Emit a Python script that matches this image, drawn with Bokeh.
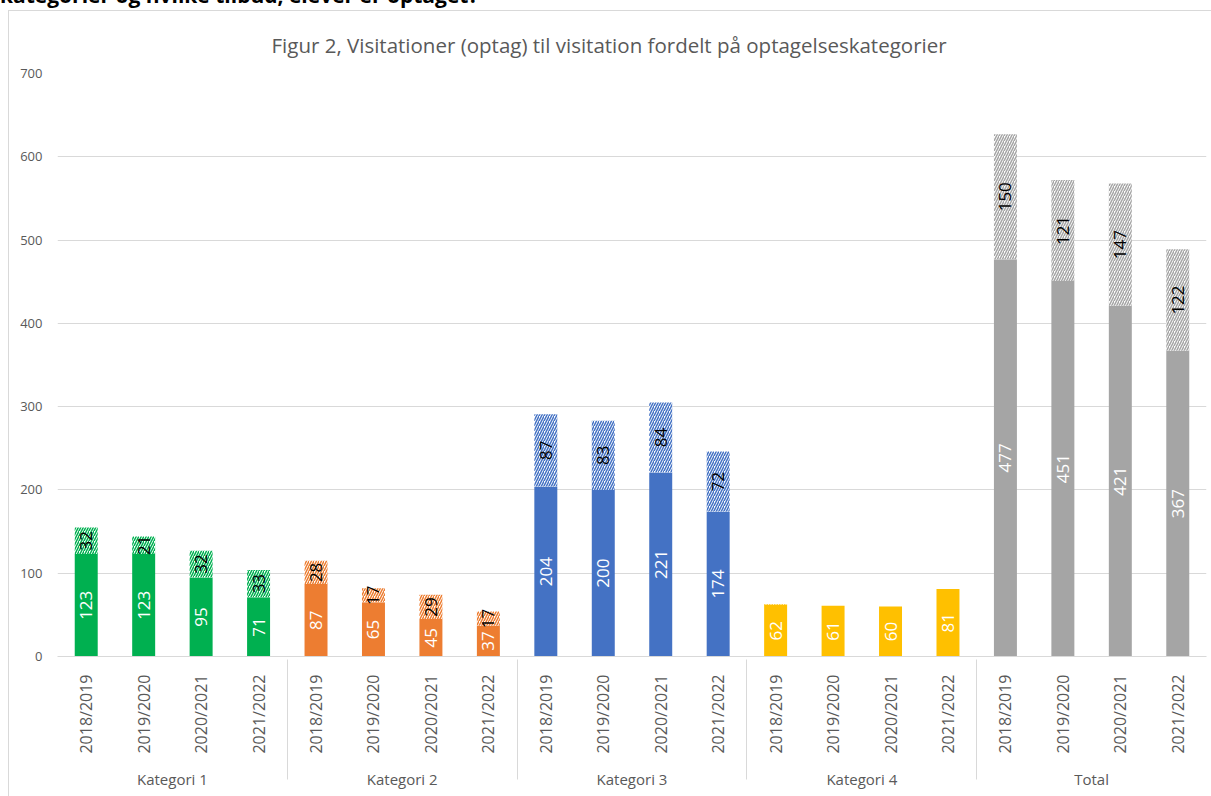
import math
from bokeh.plotting import figure
from bokeh.models import FactorRange, ColumnDataSource, Div, SingleIntervalTicker, Spacer
from bokeh.layouts import column, row
from bokeh.embed import file_html
from bokeh.resources import INLINE
from bokeh.core.properties import value

heading = "kategorier og hvilke tilbud, elever er optaget?"
title_text = "Figur 2, Visitationer (optag) til visitation fordelt på optagelseskategorier"

groups = ["Kategori 1", "Kategori 2", "Kategori 3", "Kategori 4", "Total"]
years = ["2018/2019", "2019/2020", "2020/2021", "2021/2022"]
colors = ["#00B050", "#ED7D31", "#4472C4", "#FFC000", "#A5A5A5"]

kat1_solid = [123, 123, 95, 71]
kat1_hatch = [32, 21, 32, 33]
kat2_solid = [87, 65, 45, 37]
kat2_hatch = [28, 17, 29, 17]
kat3_solid = [204, 200, 221, 174]
kat3_hatch = [87, 83, 84, 72]
kat4_solid = [62, 61, 60, 81]
kat4_hatch = [1, 0, 0, 0]
total_solid = [477, 451, 421, 367]
total_hatch = [150, 121, 147, 122]

solid = [kat1_solid, kat2_solid, kat3_solid, kat4_solid, total_solid]
hatch = [kat1_hatch, kat2_hatch, kat3_hatch, kat4_hatch, total_hatch]
hatch_labels = [
    ["32", "21", "32", "33"],
    ["28", "17", "29", "17"],
    ["87", "83", "84", "72"],
    ["", "", "", ""],
    ["150", "121", "147", "122"],
]

FONT = "Open Sans"
GREY = "#595959"

factors = [(g, y) for g in groups for y in years]

x, s_top, h_top, col, s_mid, h_mid, s_lab, h_lab = [], [], [], [], [], [], [], []
for gi, g in enumerate(groups):
    for yi, y in enumerate(years):
        a = solid[gi][yi]
        b = hatch[gi][yi]
        x.append((g, y))
        s_top.append(a)
        h_top.append(a + b)
        col.append(colors[gi])
        s_mid.append(a / 2)
        h_mid.append(a + b / 2)
        s_lab.append(str(a))
        h_lab.append(hatch_labels[gi][yi])

src = ColumnDataSource(dict(x=x, s_top=s_top, h_top=h_top, col=col,
                            s_mid=s_mid, h_mid=h_mid, s_lab=s_lab, h_lab=h_lab))

HEAD_H = 10
FIG_W, FIG_H = 1203, 786
BORDER_L, BORDER_R, BORDER_T, BORDER_B = 48, 6, 62, 141

p = figure(
    x_range=FactorRange(*factors, factor_padding=0, group_padding=0,
                        subgroup_padding=0, range_padding=0),
    y_range=(0, 700),
    width=FIG_W, height=FIG_H,
    output_backend="svg", toolbar_location=None,
    min_border_left=BORDER_L, min_border_right=BORDER_R,
    min_border_top=BORDER_T, min_border_bottom=BORDER_B,
)
p.styles = {"border-left": "1px solid #d9d9d9", "border-top": "1px solid #d9d9d9"}

p.title.text = title_text
p.title.align = "left"
p.title.vertical_align = "top"
p.title.offset = 214
p.title.standoff = 26
p.title.text_font = FONT
p.title.text_font_size = "20.5px"
p.title.text_font_style = "normal"
p.title.text_color = GREY

p.outline_line_color = None
p.background_fill_color = "white"
p.border_fill_color = "white"

p.vbar(x="x", top="s_top", bottom=0, width=0.4, source=src,
       fill_color="col", line_color=None)
p.vbar(x="x", top="h_top", bottom="s_top", width=0.4, source=src,
       fill_color="white", line_color=None,
       hatch_pattern="/", hatch_color="col", hatch_scale=5, hatch_weight=1.5)

p.text(x="x", y="s_mid", text="s_lab", source=src, angle=math.pi / 2,
       text_align="center", text_baseline="middle",
       text_font=value(FONT), text_font_size="17px", text_color="white")
p.text(x="x", y="h_mid", text="h_lab", source=src, angle=math.pi / 2,
       text_align="center", text_baseline="middle",
       text_font=value(FONT), text_font_size="17px", text_color="black")

p.xgrid.grid_line_color = None
p.ygrid.grid_line_color = "#d9d9d9"
p.ygrid.grid_line_width = 1

p.yaxis.ticker = SingleIntervalTicker(interval=100)
p.yaxis.axis_line_color = None
p.yaxis.major_tick_line_color = None
p.yaxis.minor_tick_line_color = None
p.yaxis.major_label_text_font = FONT
p.yaxis.major_label_text_font_size = "13px"
p.yaxis.major_label_text_color = GREY
p.yaxis.major_label_standoff = 9

xa = p.xaxis[0]
xa.axis_line_color = "#d9d9d9"
xa.major_tick_line_color = None
xa.minor_tick_line_color = None
xa.major_label_orientation = math.pi / 2
xa.major_label_text_font = FONT
xa.major_label_text_font_size = "16px"
xa.major_label_text_color = GREY
xa.major_label_standoff = 12
xa.group_text_font = FONT
xa.group_text_font_size = "15px"
xa.group_text_font_style = "normal"
xa.group_text_color = GREY
xa.group_label_orientation = "horizontal"
xa.separator_line_color = "#d9d9d9"
xa.separator_line_width = 1

head = Div(
    text=('<div style="position:relative;top:-15px;font-family:\'Open Sans\';'
          'font-weight:bold;font-size:21px;line-height:21px;white-space:nowrap;'
          'color:#000;">' + heading + '</div>'),
    width=1211, height=HEAD_H, sizing_mode="fixed",
    styles={"overflow": "hidden", "height": f"{HEAD_H}px",
            "max-height": f"{HEAD_H}px", "margin": "0", "padding": "0"},
)

layout = column(head, row(Spacer(width=8, height=FIG_H), p, spacing=0), spacing=0)
open("out.html", "w").write(file_html(layout, INLINE))
